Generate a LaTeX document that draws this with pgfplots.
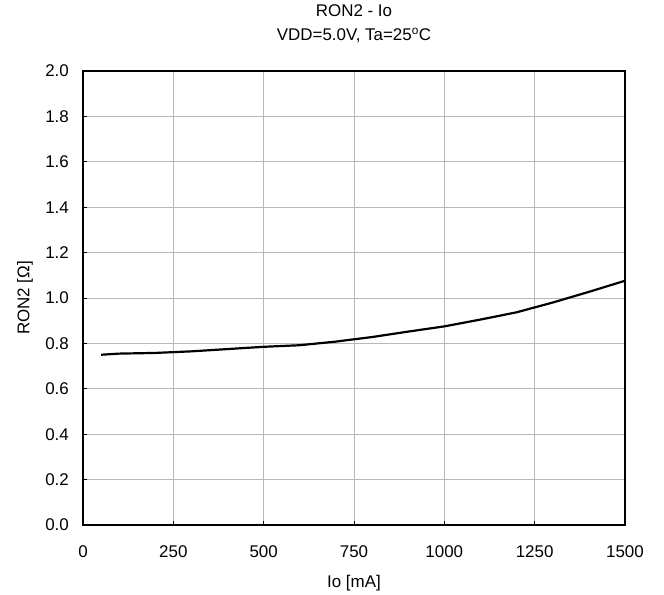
\documentclass[border=0pt]{standalone}
\usepackage{fontspec}
\setmainfont{Liberation Sans}
\usepackage{pgfplots}
\pgfplotsset{compat=1.18}

\begin{document}
\begin{tikzpicture}
    \begin{axis}[
        name = main,
        scale only axis,
        width = 542bp,
        height = 454bp,
        xmin = 0, xmax = 1500,
        ymin = 0, ymax = 2,
        xtick = {0,250,...,1500},
        ytick = {0,0.2,...,2.0},
        /pgf/number format/assume math mode=true,
        /pgf/number format/1000 sep={},
        xticklabel style = {anchor=center, inner sep=0pt, yshift=-27bp},
        yticklabel style = {anchor=east, inner sep=0pt, xshift=-14bp,
                            /pgf/number format/.cd, fixed, fixed zerofill, precision=1},
        tick align = inside,
        tick pos = left,
        major tick length = 4bp,
        grid = major,
        major grid style = {black!28, line width=0.8pt},
        axis line style = {black, line width=1.1pt},
        tick style = {black, line width=0.8pt},
        font = \fontsize{17}{20}\selectfont,
        title style = {at={(axis description cs:0.5,1.0903)}, anchor=center,
                       align=center, font=\fontsize{17}{24}\selectfont},
        title = {RON2 - Io\\VDD=5.0V, Ta=25\textsuperscript{o}C},
        xlabel = {Io [mA]},
        xlabel style = {at={(axis description cs:0.5,-0.128)}, anchor=center},
        ylabel = {RON2 [Ω]},
        ylabel style = {at={(axis description cs:-0.107,0.5)}, anchor=center},
    ]
        \addplot [black, line width=2.2pt, line join=round, no marks] coordinates {
            (50, 0.750)
            (100, 0.755)
            (200, 0.758)
            (300, 0.765)
            (400, 0.775)
            (500, 0.785)
            (600, 0.792)
            (700, 0.808)
            (800, 0.828)
            (900, 0.852)
            (1000, 0.875)
            (1100, 0.905)
            (1200, 0.937)
            (1300, 0.980)
            (1400, 1.027)
            (1500, 1.076)
        };
    \end{axis}
    \pgfresetboundingbox
    \path (main.south west) ++(-83bp,-70bp) rectangle ++(664bp,595bp);
\end{tikzpicture}
\end{document}
